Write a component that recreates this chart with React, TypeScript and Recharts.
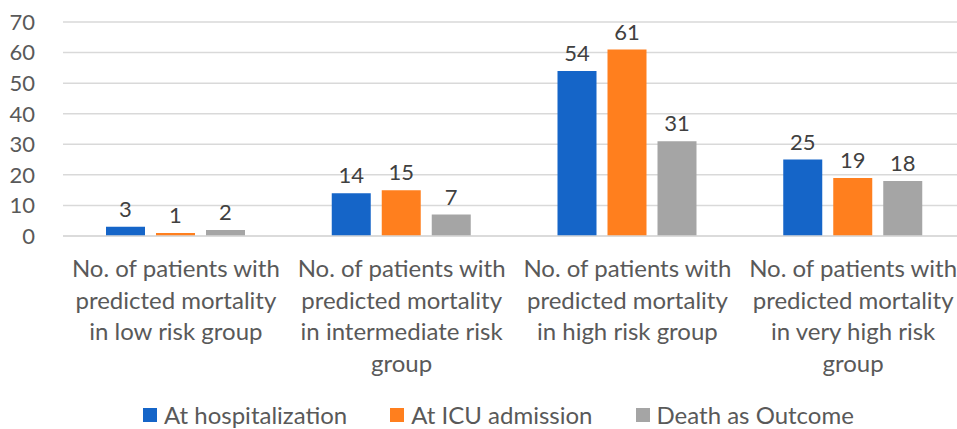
import {
  BarChart,
  Bar,
  XAxis,
  YAxis,
  CartesianGrid,
  Legend,
  LabelList,
} from "recharts";

const categories = [
  ["No. of patients with", "predicted mortality", "in low risk group"],
  ["No. of patients with", "predicted mortality", "in intermediate risk", "group"],
  ["No. of patients with", "predicted mortality", "in high risk group"],
  ["No. of patients with", "predicted mortality", "in very high risk", "group"],
];

const atHospitalization = [3, 14, 54, 25];
const atIcuAdmission = [1, 15, 61, 19];
const deathAsOutcome = [2, 7, 31, 18];

const yTicks = [0, 10, 20, 30, 40, 50, 60, 70];

const SERIES = [
  { key: "hosp", name: "At hospitalization", color: "#1565C8" },
  { key: "icu", name: "At ICU admission", color: "#FF7F1E" },
  { key: "death", name: "Death as Outcome", color: "#A5A5A5" },
];

const FONT = "Lato, 'Open Sans', sans-serif";

const data = categories.map((lines, i) => ({
  name: lines.join(" "),
  lines,
  hosp: atHospitalization[i],
  icu: atIcuAdmission[i],
  death: deathAsOutcome[i],
}));

function CategoryTick(props: any) {
  const { x, y, index } = props;
  const lines = categories[index] ?? [];
  return (
    <text
      x={x}
      y={y}
      textAnchor="middle"
      fill="#595959"
      fontSize={24}
      fontFamily={FONT}
    >
      {lines.map((l, i) => (
        <tspan key={i} x={x} dy={i === 0 ? 41 : 31.5}>
          {l}
        </tspan>
      ))}
    </text>
  );
}

function LegendContent() {
  return (
    <div
      style={{
        display: "flex",
        justifyContent: "flex-start",
        paddingLeft: 143,
        alignItems: "center",
        height: 28,
        lineHeight: "28px",
        fontFamily: FONT,
        fontSize: 24,
        color: "#595959",
      }}
    >
      {SERIES.map((s, i) => (
        <div
          key={s.key}
          style={{
            display: "flex",
            alignItems: "center",
            marginRight: i < SERIES.length - 1 ? 43 : 0,
          }}
        >
          <span
            style={{
              display: "inline-block",
              width: 14,
              height: 14,
              background: s.color,
              marginRight: 7,
            }}
          />
          <span>{s.name}</span>
        </div>
      ))}
    </div>
  );
}

export default function App() {
  return (
    <div
      style={{
        position: "fixed",
        left: 0,
        top: 0,
        width: 957,
        height: 429,
        overflow: "hidden",
        background: "#fff",
      }}
    >
      <BarChart
        width={966}
        height={429}
        data={data}
        margin={{ top: 22, right: 0, bottom: 0, left: 0 }}
        barSize={39}
        barGap={11}
      >
        <CartesianGrid vertical={false} stroke="#D9D9D9" strokeWidth={1.5} />
        <XAxis
          dataKey="name"
          height={165}
          interval={0}
          tickLine={false}
          tickSize={0}
          tickMargin={0}
          axisLine={{ stroke: "#D9D9D9", strokeWidth: 1.5 }}
          tick={<CategoryTick />}
        />
        <YAxis
          width={63}
          domain={[0, 70]}
          ticks={yTicks}
          interval={0}
          axisLine={false}
          tickLine={false}
          tickMargin={22}
          tick={{ fill: "#595959", fontSize: 22, fontFamily: FONT }}
        />
        <Legend
          verticalAlign="bottom"
          height={28}
          wrapperStyle={{ bottom: 0 }}
          content={<LegendContent />}
        />
        {SERIES.map((s) => (
          <Bar
            key={s.key}
            dataKey={s.key}
            name={s.name}
            fill={s.color}
            isAnimationActive={false}
          >
            <LabelList
              dataKey={s.key}
              position="top"
              offset={10}
              fill="#404040"
              fontSize={22}
              fontFamily={FONT}
            />
          </Bar>
        ))}
      </BarChart>
    </div>
  );
}
